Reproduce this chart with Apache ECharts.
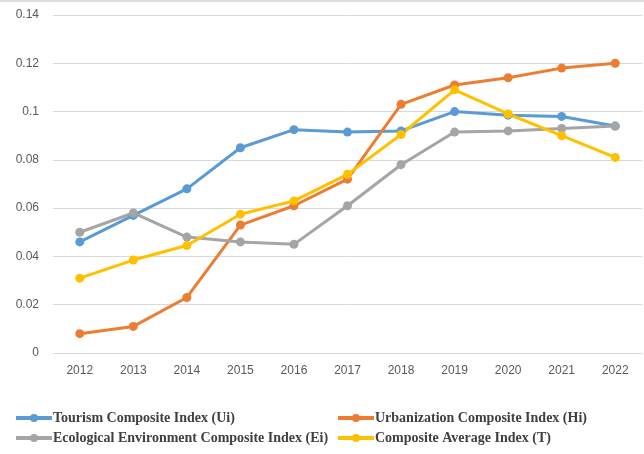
<!DOCTYPE html>
<html>
<head>
<meta charset="utf-8">
<script src="https://cdn.jsdelivr.net/npm/echarts@6/dist/echarts.min.js"></script>
<style>
  html, body { margin: 0; padding: 0; background: #fff; }
  #chart { width: 644px; height: 454px; }
</style>
</head>
<body>
<div id="chart"></div>
<script>
const years = ['2012', '2013', '2014', '2015', '2016', '2017', '2018', '2019', '2020', '2021', '2022'];
const tourism = [0.046, 0.057, 0.068, 0.085, 0.0925, 0.0915, 0.092, 0.100, 0.0985, 0.098, 0.094];
const urbanization = [0.008, 0.011, 0.023, 0.053, 0.061, 0.072, 0.103, 0.111, 0.114, 0.118, 0.120];
const ecological = [0.050, 0.058, 0.048, 0.046, 0.045, 0.061, 0.078, 0.0915, 0.092, 0.093, 0.094];
const composite = [0.031, 0.0385, 0.0445, 0.0575, 0.063, 0.074, 0.0905, 0.109, 0.099, 0.090, 0.081];

const names = [
  'Tourism Composite Index (Ui)',
  'Urbanization Composite Index (Hi)',
  'Ecological Environment Composite Index (Ei)',
  'Composite Average Index (T)'
];
const colors = ['#5B9BD5', '#ED7D31', '#A5A5A5', '#FFC000'];
const values = [tourism, urbanization, ecological, composite];

// legend slots: 2 columns x 2 rows
const legendPos = [
  { left: 14, top: 411 },
  { left: 336, top: 411 },
  { left: 14, top: 431 },
  { left: 336, top: 431 }
];

const chart = echarts.init(document.getElementById('chart'));
chart.setOption({
  animation: false,
  color: colors,
  grid: { left: 53, right: 2, top: 15, bottom: 101 },
  graphic: [{
    type: 'line',
    shape: { x1: 0, y1: 1, x2: 644, y2: 1 },
    style: { stroke: '#DDDDDD', lineWidth: 2 }
  }],
  legend: names.map((n, i) => ({
    data: [n],
    left: legendPos[i].left,
    top: legendPos[i].top,
    itemWidth: 36,
    itemHeight: 10,
    itemGap: 0,
    padding: 0,
    lineStyle: { width: 4 },
    textStyle: {
      fontFamily: 'Liberation Serif',
      fontWeight: 'bold',
      fontSize: 14,
      color: '#404040',
      padding: [0, 0, 0, -4]
    }
  })),
  xAxis: {
    type: 'category',
    data: years,
    boundaryGap: true,
    axisLine: { lineStyle: { color: '#D9D9D9' } },
    axisTick: { show: false },
    axisLabel: { color: '#595959', fontSize: 12, fontFamily: 'Liberation Sans', margin: 12 }
  },
  yAxis: {
    type: 'value',
    min: 0,
    max: 0.14,
    interval: 0.02,
    axisLine: { show: false },
    axisTick: { show: false },
    axisLabel: { color: '#595959', fontSize: 12, fontFamily: 'Liberation Sans', margin: 14 },
    splitLine: { lineStyle: { color: '#D9D9D9', width: 1 } }
  },
  series: names.map((n, i) => ({
    name: n,
    type: 'line',
    data: values[i],
    symbol: 'circle',
    symbolSize: 9,
    lineStyle: { width: 3 },
    itemStyle: { color: colors[i] }
  }))
});
</script>
</body>
</html>
